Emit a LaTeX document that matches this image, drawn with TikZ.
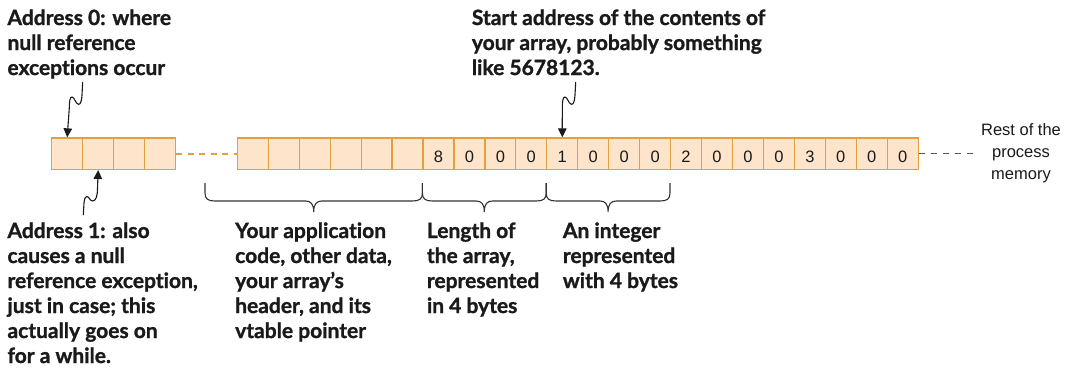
\documentclass[tikz,border=0pt]{standalone}
\usepackage{fontspec}
\setmainfont{Liberation Sans}
\newfontfamily\lblfont{Lato}[Ligatures=NoCommon, BoldFeatures={FakeBold=1.2}]
\usetikzlibrary{arrows.meta,calc}

\definecolor{cellfill}{HTML}{FDE4CB}
\definecolor{celldraw}{HTML}{E0A23C}
\definecolor{ink}{HTML}{1A1A1A}
\definecolor{bracecol}{HTML}{333333}
\definecolor{gapdash}{HTML}{555555}

\tikzset{
  cell/.style={draw=celldraw, fill=cellfill, line width=1.2pt,
    minimum width=31pt, minimum height=31.5pt, inner sep=0pt,
    font=\fontsize{16.5}{16.5}\selectfont, text=ink,
    text height=17.8pt, text depth=0pt},
  % multi-line labels are placed by the baseline of their last line
  lbl/.style={font=\lblfont\bfseries\fontsize{21}{25}\selectfont,
    align=left, inner sep=0pt, anchor=base west, text=ink},
  restlbl/.style={font=\fontsize{16.5}{22}\selectfont,
    align=center, inner sep=0pt, anchor=base, text=ink},
  pointer/.style={draw=ink, line width=1.1pt,
    -{Triangle[length=9pt,width=8.5pt]}},
  % wavy pointer going down from a label to a cell
  squigdown/.style={to path={
    -- ($(\tikztostart)+(-0.7,13)$)
    .. controls ($(\tikztostart)+(-1,19)$) and ($(\tikztostart)+(-2.2,22.5)$) .. ($(\tikztostart)+(-4.2,22.3)$)
    .. controls ($(\tikztostart)+(-7.2,22)$) and ($(\tikztostart)+(-8.2,15)$) .. ($(\tikztostart)+(-10.7,15)$)
    .. controls ($(\tikztostart)+(-12.7,15)$) and ($(\tikztostart)+(-13.4,19)$) .. ($(\tikztostart)+(-13.4,26)$)
    -- (\tikztotarget)}},
  % wavy pointer going up from a label to a cell
  squigup/.style={to path={
    -- ($(\tikztostart)+(0.7,-12)$)
    .. controls ($(\tikztostart)+(1.2,-17)$) and ($(\tikztostart)+(2.2,-18.5)$) .. ($(\tikztostart)+(3.7,-18.5)$)
    .. controls ($(\tikztostart)+(5.7,-18.5)$) and ($(\tikztostart)+(6.7,-14)$) .. ($(\tikztostart)+(9.2,-14)$)
    .. controls ($(\tikztostart)+(12.7,-14)$) and ($(\tikztostart)+(14.2,-19)$) .. ($(\tikztostart)+(14.2,-27)$)
    -- (\tikztotarget)}},
  % curly brace hanging below the memory row
  membrace/.style={draw=bracecol, line width=1.1pt, line join=round, to path={
    -- ($(\tikztostart)+(0,10)$)
    .. controls ($(\tikztostart)+(0,16)$) and ($(\tikztostart)+(3,18)$) .. ($(\tikztostart)+(10,18)$)
    -- ($(\tikztostart)!.5!(\tikztotarget)+(-8,18)$)
    .. controls ($(\tikztostart)!.5!(\tikztotarget)+(-3,18)$) and ($(\tikztostart)!.5!(\tikztotarget)+(0,21)$) .. ($(\tikztostart)!.5!(\tikztotarget)+(0,28.7)$)
    .. controls ($(\tikztostart)!.5!(\tikztotarget)+(0,21)$) and ($(\tikztostart)!.5!(\tikztotarget)+(3,18)$) .. ($(\tikztostart)!.5!(\tikztotarget)+(8,18)$)
    -- ($(\tikztotarget)+(-10,18)$)
    .. controls ($(\tikztotarget)+(-3,18)$) and ($(\tikztotarget)+(0,16)$) .. ($(\tikztotarget)+(0,10)$)
    -- (\tikztotarget)}},
}

\begin{document}
\begin{tikzpicture}[x=1pt,y=-1pt]
\useasboundingbox (0,0) rectangle (1070,370);

% first bytes of memory
\foreach \i in {0,...,3}
  \node[cell] (a\i) at ({51.7+31*\i+15.5},153.7) {};

% later region: unlabelled bytes, then the array
\foreach \i in {0,...,5}
  \node[cell, minimum width=30.95pt] (b\i) at ({237.3+30.95*\i+15.475},153.7) {};
\foreach \d [count=\i from 6] in {8,0,0,0,1,0,0,0,2,0,0,0,3,0,0,0}
  \node[cell, minimum width=30.95pt] (b\i) at ({237.3+30.95*\i+15.475},153.7) {\d};

% gaps in memory
\draw[celldraw, line width=1.6pt, dash pattern=on 6pt off 5.5pt] (a3.east) -- (b0.west);
\node[restlbl] (rest) at (1021,179) {Rest of the\\process\\memory};
\coordinate (restend) at (975,153.7);
\draw[gapdash, line width=1.1pt, dash pattern=on 6pt off 6pt] (b21.east) -- (restend);

% labels
\node[lbl] (lbl0) at (7.3,75) {Address 0: where\\null reference\\exceptions occur};
\node[lbl] (lbl1) at (7.3,363) {Address 1: also\\causes a null\\reference exception,\\just in case; this\\actually goes on\\for a while.};
\node[lbl] (lblapp) at (235,338) {Your application\\code, other data,\\your array’s\\header, and its\\vtable pointer};
\node[lbl] (lbllen) at (426.7,313) {Length of\\the array,\\represented\\in 4 bytes};
\node[lbl] (lblint) at (562.7,288) {An integer\\represented\\with 4 bytes};
\node[lbl] (lblstart) at (471.7,75) {Start address of the contents of\\your array, probably something\\like 5678123.};

% pointers
\coordinate (t0) at (82.7,82);
\coordinate (t1) at (83.3,215);
\coordinate (t2) at (575.7,82);
\draw[pointer] (t0) to[squigdown] (a0.north);
\draw[pointer] (t1) to[squigup] (a1.south);
\draw[pointer] (t2) to[squigdown] (b10.north);

% braces
\coordinate (k0) at (205,183);
\coordinate (k1) at (b6.south west |- k0);
\coordinate (k2) at (b10.south west |- k0);
\coordinate (k3) at (b14.south west |- k0);
\draw[membrace] (k0) to (k1);
\draw[membrace] (k1) to (k2);
\draw[membrace] (k2) to (k3);
\end{tikzpicture}
\end{document}
